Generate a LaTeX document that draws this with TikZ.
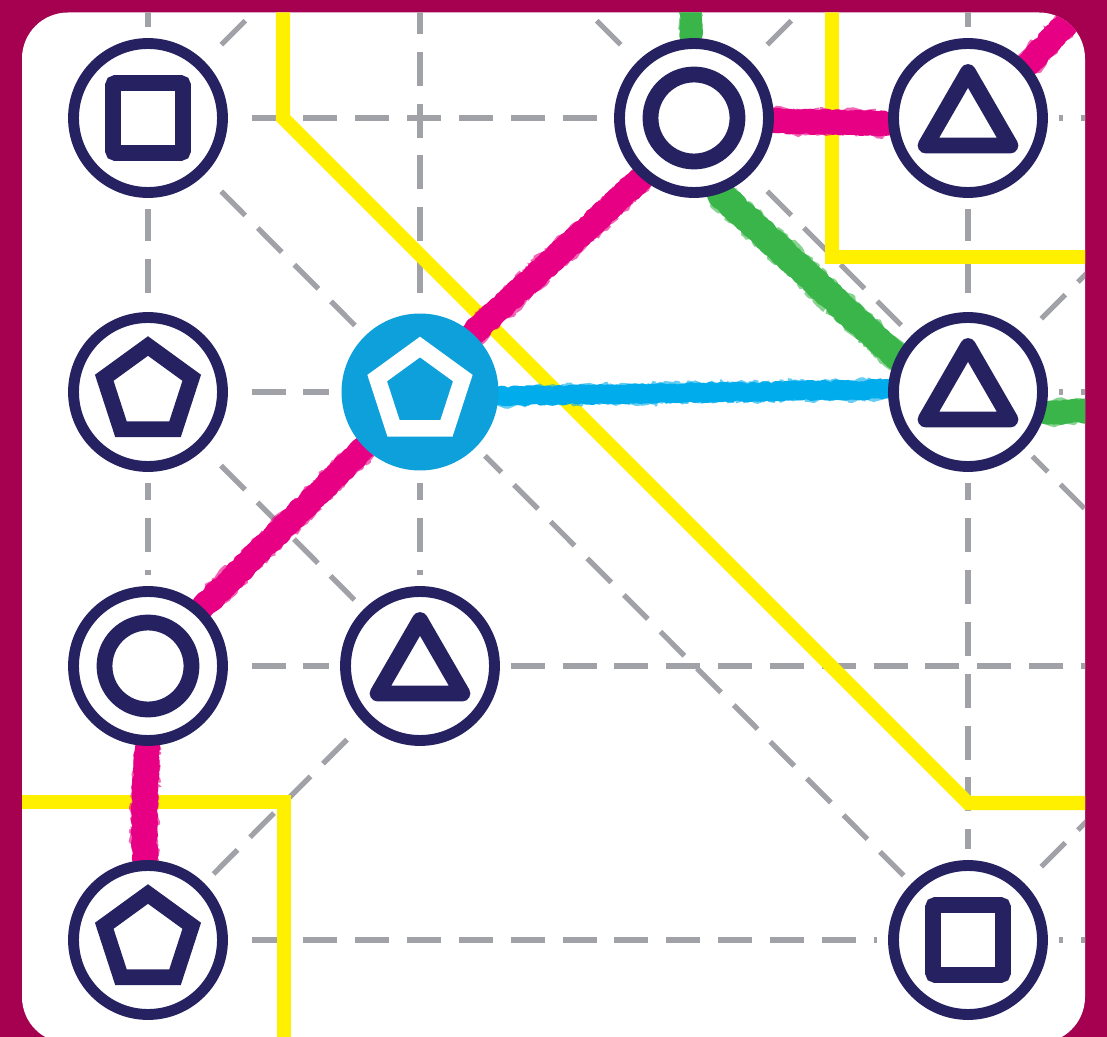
\documentclass[tikz,border=0pt]{standalone}
\usetikzlibrary{shapes.geometric,decorations.pathmorphing}
\pgfdeclarelayer{bg}
\pgfdeclarelayer{lines}
\pgfsetlayers{bg,lines,main}
\definecolor{frame}{RGB}{166,0,80}
\definecolor{navy}{RGB}{38,34,98}
\definecolor{gridgray}{RGB}{160,162,168}
\definecolor{ylw}{RGB}{255,240,0}
\definecolor{pnk}{RGB}{232,0,132}
\definecolor{cyanline}{RGB}{0,172,236}
\definecolor{bluenode}{RGB}{14,160,218}
\definecolor{grn}{RGB}{58,181,74}
\begin{document}
\begin{tikzpicture}[x=0.02cm,y=-0.02cm,
  ring/.style={circle,draw=navy,line width=6.2pt,fill=white,minimum size=2.98cm,inner sep=0pt},
  hub/.style={circle,fill=bluenode,minimum size=3.14cm,inner sep=0pt},
  symsq/.style={rectangle,draw=navy,line width=9pt,minimum size=1.4cm,inner sep=0pt,rounded corners=1.5pt},
  symci/.style={circle,draw=navy,line width=9pt,minimum size=1.74cm,inner sep=0pt},
  symtri/.style={regular polygon,regular polygon sides=3,draw=navy,line width=9pt,minimum size=1.96cm,inner sep=0pt,line join=round},
  sympen/.style={regular polygon,regular polygon sides=5,draw=navy,line width=9pt,minimum size=1.84cm,inner sep=0pt,line join=miter},
  hubpen/.style={regular polygon,regular polygon sides=5,draw=white,fill=bluenode,line width=9.5pt,minimum size=1.8cm,inner sep=0pt,line join=miter},
  gridline/.style={draw=gridgray,line width=3pt,dash pattern=on 19.3pt off 10.2pt},
  yline/.style={draw=ylw,line width=8pt,line join=miter},
  crayon/.style={line width=#1,line cap=round,line join=round,decorate,decoration={random steps,segment length=1.2pt,amplitude=0.8pt}},
  crayonedge/.style={line width=#1,line cap=butt,line join=bevel,opacity=0.6,decorate,decoration={random steps,segment length=1pt,amplitude=1.5pt}}
]
\useasboundingbox (0,0) rectangle (1107,1037);

% ---------- nodes ----------
\node[ring] (sq1) at (148,118) {};
\node[symsq] (sq1s) at (sq1.center) {};
\node[ring] (c2) at (694,118) {};
\node[symci] (c2s) at (c2.center) {};
\node[ring] (t1) at (968,118) {};
\node[symtri] (t1s) at ([yshift=-0.06cm]t1.center) {};
\node[ring] (p1) at (148,392) {};
\node[sympen] (p1s) at (p1.center) {};
\node[hub] (bl) at (420,392) {};
\node[hubpen] (bls) at (bl.center) {};
\node[ring] (t2) at (968,392) {};
\node[symtri] (t2s) at ([yshift=-0.06cm]t2.center) {};
\node[ring] (c3) at (148,666) {};
\node[symci] (c3s) at (c3.center) {};
\node[ring] (t3) at (420,666) {};
\node[symtri] (t3s) at ([yshift=-0.06cm]t3.center) {};
\node[ring] (p2) at (148,940) {};
\node[sympen] (p2s) at (p2.center) {};
\node[ring] (sq2) at (968,940) {};
\node[symsq] (sq2s) at (sq2.center) {};

% free ends
\coordinate (eH1) at (1110,118);
\coordinate (eH2) at (1110,392);
\coordinate (eH3) at (1110,666);
\coordinate (eH4) at (1110,940);
\coordinate (eV1) at (148,0);
\coordinate (eV2) at (420,0);
\coordinate (eV3) at (968,0);
\coordinate (eD1) at (280,-14);
\coordinate (eD2) at (566,-10);
\coordinate (eD3) at (822,-10);
\coordinate (eD4) at (1110,534);
\coordinate (eD5) at (1110,250);
\coordinate (eD6) at (1110,798);
\coordinate (gTop) at (690,0);
\coordinate (gRight) at (1110,410);
\coordinate (pTR) at (1110,-22);

% ---------- background ----------
\begin{pgfonlayer}{bg}
  \fill[frame] (0,0) rectangle (1107,1037);
  \fill[white,rounded corners=0.92cm] (22,12.5) rectangle (1085,1043);
  \begin{scope}
    \clip[rounded corners=0.92cm] (22,12.5) rectangle (1085,1043);
    % dashed grid
    \draw[gridline] (sq1.center) -- (eH1);
    \draw[gridline] (p1.center) -- (eH2);
    \draw[gridline] (c3.center) -- (eH3);
    \draw[gridline] (p2.center) -- (eH4);
    \draw[gridline] (eV1) -- (p2.center);
    \draw[gridline] (eV2) -- (t3.center);
    \draw[gridline] (eV3) -- (sq2.center);
    \draw[gridline] (sq1.center) -- (sq2.center);
    \draw[gridline] (sq1.center) -- (eD1);
    \draw[gridline] (c2.center) -- (eD2);
    \draw[gridline] (c2.center) -- (eD3);
    \draw[gridline] (c2.center) -- (eD4);
    \draw[gridline] (p1.center) -- (t3.center);
    \draw[gridline] (c3.center) -- (c2.center);
    \draw[gridline] (t3.center) -- (p2.center);
    \draw[gridline] (t2.center) -- (eD5);
    \draw[gridline] (sq2.center) -- (eD6);
    % white halos round the stations
    \foreach \n in {sq1,c2,t1,p1,bl,t2,c3,t3,p2,sq2}
      \fill[white] (\n.center) circle[radius=1.82cm];
    % yellow zone lines
    \draw[yline] (283,0) -- (283,118) -- (968,803) -- (1110,803);
    \draw[yline] (832,0) -- (832,257) -- (1110,257);
    \draw[yline] (0,802) -- (284,802) -- (284,1050);
  \end{scope}
\end{pgfonlayer}

% ---------- coloured routes ----------
\begin{pgfonlayer}{lines}
  \begin{scope}
    \clip[rounded corners=0.92cm] (22,12.5) rectangle (1085,1043);
    % green
    \draw[grn,crayon=12pt] (gTop) -- (c2.92);
    \draw[grn,crayonedge=13pt] (gTop) -- (c2.92);
    \draw[grn,crayon=15pt] (c2.-71) -- (t2.154);
    \draw[grn,crayonedge=16.5pt] (c2.-71) -- (t2.154);
    \draw[grn,crayon=13pt] (t2.-15) -- (gRight);
    \draw[grn,crayonedge=14.5pt] (t2.-15) -- (gRight);
    % cyan
    \draw[cyanline,crayon=10.5pt] (bl.-3) -- (t2.178);
    \draw[cyanline,crayonedge=12pt] (bl.-3) -- (t2.178);
    % pink
    \draw[pnk,crayon=13.5pt] (c2.-2) -- (t1.184);
    \draw[pnk,crayonedge=15pt] (c2.-2) -- (t1.184);
    \draw[pnk,crayon=13.5pt] (t1.42) -- (pTR);
    \draw[pnk,crayonedge=15pt] (t1.42) -- (pTR);
    \draw[pnk,crayon=13.5pt] (c2.229) -- (bl.48);
    \draw[pnk,crayonedge=15pt] (c2.229) -- (bl.48);
    \draw[pnk,crayon=13.5pt] (bl.225) -- (c3.47);
    \draw[pnk,crayonedge=15pt] (bl.225) -- (c3.47);
    \draw[pnk,crayon=14pt] (c3.-90) to[out=-95,in=92] (p2.92);
    \draw[pnk,crayonedge=15.5pt] (c3.-90) to[out=-95,in=92] (p2.92);
  \end{scope}
\end{pgfonlayer}
\end{tikzpicture}
\end{document}
